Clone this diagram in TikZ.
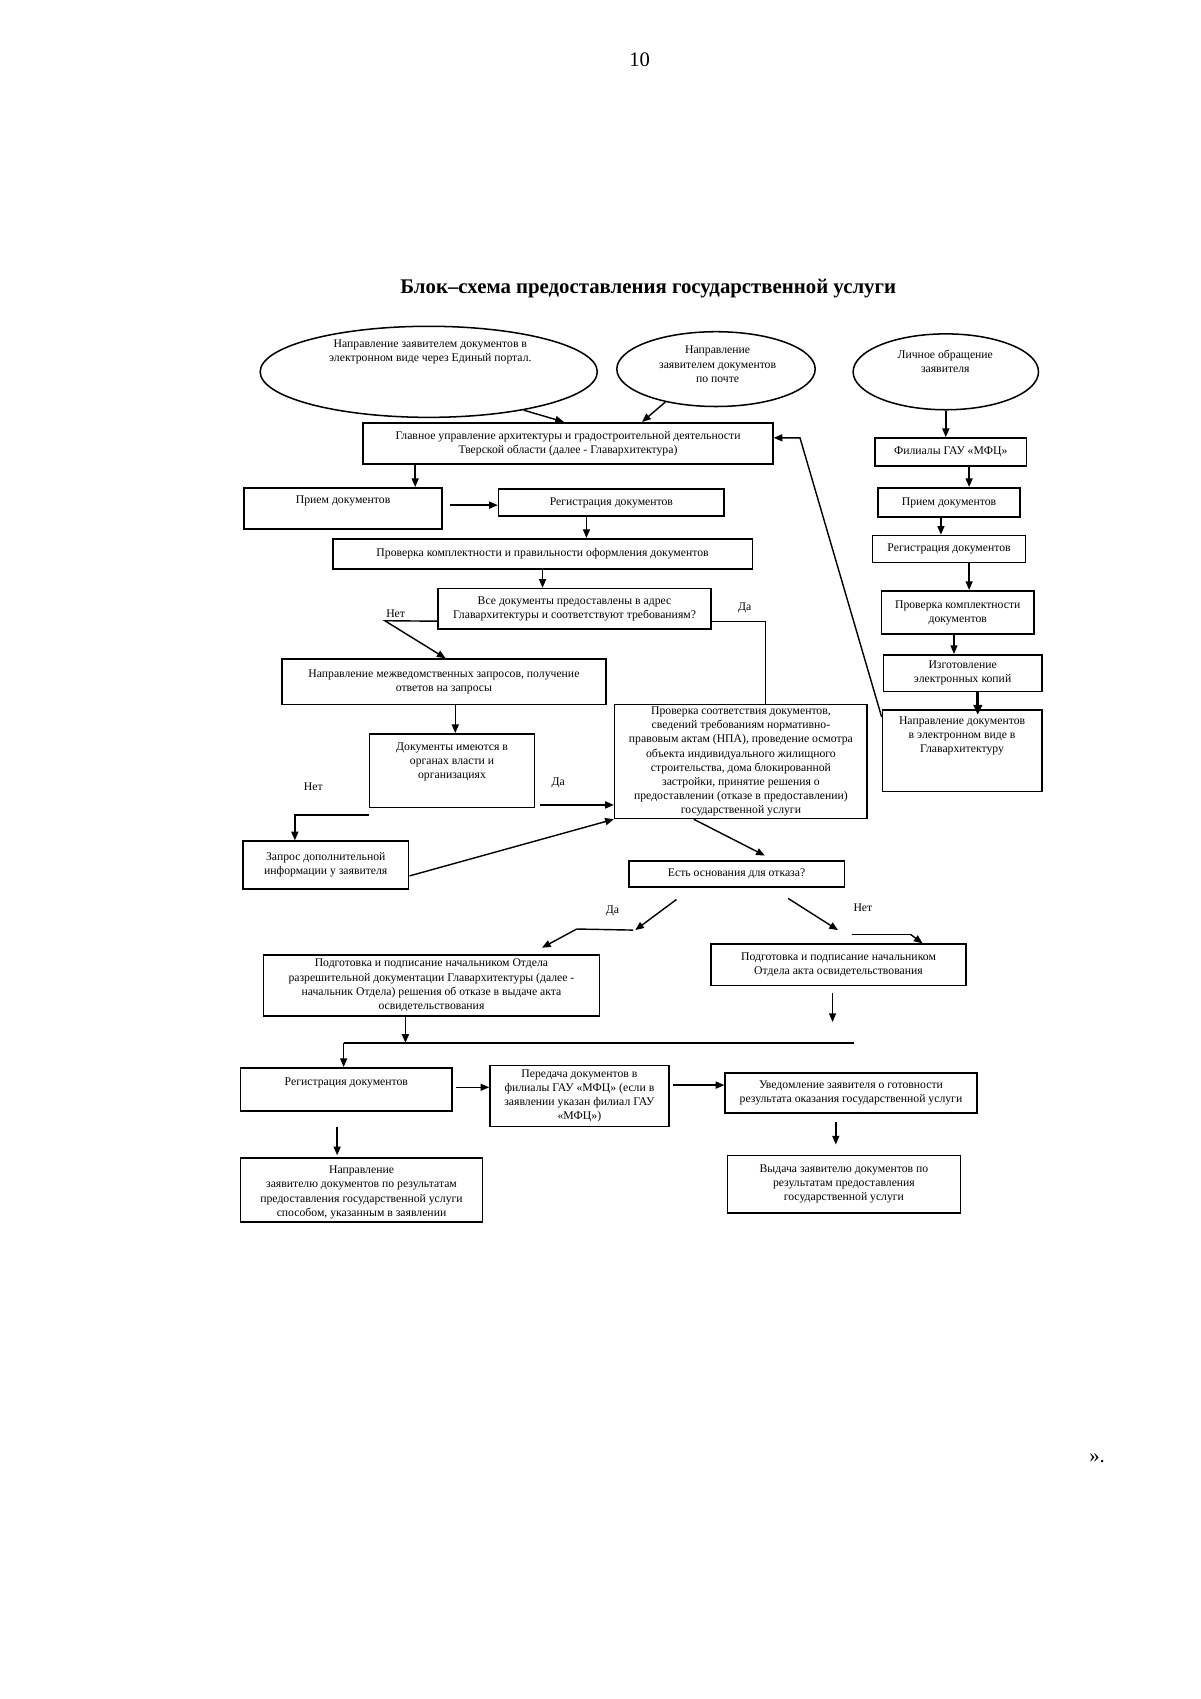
\documentclass[tikz,border=0pt]{standalone}
\usepackage{fontspec}
\setmainfont{Liberation Serif}
\usetikzlibrary{shapes.geometric,arrows.meta,calc}
\newcommand\fs{\fontsize{10.8}{13}\selectfont}
\tikzset{
  box/.style={draw, line width=1.5pt, inner sep=1pt, align=center, font=\fs},
  ell/.style={draw, ellipse, line width=1.4pt, inner sep=0pt},
  txt/.style={align=center, inner sep=0pt, font=\fs},
  arr/.style={line width=1.3pt, -{Triangle[length=8pt,width=6.5pt]}},
  ln/.style={line width=1.3pt},
  lbl/.style={font=\fs, inner sep=0pt}
}
\newcommand\mkbox[6]{%
  \pgfmathsetmacro\mbw{#4-#2}\pgfmathsetmacro\mbh{#5-#3}%
  \pgfmathsetmacro\mbx{(#2+#4)/2}\pgfmathsetmacro\mby{-(#3+#5)/2}%
  \node[box, minimum width=\mbw pt, minimum height=\mbh pt] (#1) at (\mbx,\mby) {#6};}
\newcommand\mkboxt[7]{%
  \pgfmathsetmacro\mbw{#4-#2}\pgfmathsetmacro\mbh{#5-#3}%
  \pgfmathsetmacro\mbx{(#2+#4)/2}\pgfmathsetmacro\mby{-(#3+#5)/2}%
  \node[box, minimum width=\mbw pt, minimum height=\mbh pt] (#1) at (\mbx,\mby) {};
  \node[txt] (#1-t) at (\mbx,-#6) {#7};}
\begin{document}
\begin{tikzpicture}[x=1pt,y=1pt]
\fill[white] (0,0) rectangle (1107,-1567.3);
\useasboundingbox (0,0) rectangle (1107,-1567.3);

\node[font=\fontsize{19}{22}\selectfont, inner sep=0pt] (pg) at (590,-55) {10};
\node[font=\fontsize{19}{22}\selectfont, inner sep=0pt] (qt) at (1012,-1345) {».};
\node[font=\bfseries\fontsize{19.2}{22}\selectfont, inner sep=0pt] (title) at (598,-266) {Блок–схема предоставления государственной услуги};

% ellipses
\node[ell, minimum width=311pt, minimum height=84pt] (E1) at (395.5,-343) {};
\node[txt] (E1-t) at (397,-324.5) {Направление заявителем документов в\\электронном виде через Единый портал.};
\node[ell, minimum width=183pt, minimum height=69pt] (E2) at (660.5,-340.5) {};
\node[txt] (E2-t) at (662,-336) {Направление\\заявителем документов\\по почте};
\node[ell, minimum width=171pt, minimum height=70pt] (E3) at (872.5,-343) {};
\node[txt] (E3-t) at (872,-333.5) {Личное обращение\\заявителя};

% main column
\mkbox{Glav}{335}{390}{713}{428}{Главное управление архитектуры и градостроительной деятельности\\Тверской области (далее - Главархитектура)}
\mkboxt{Priem1}{225}{450}{408}{488}{462}{Прием документов}
\mkbox{Reg1}{460}{451}{668}{476}{Регистрация документов}
\mkbox{Prov1}{307}{497}{694}{525}{Проверка комплектности и правильности оформления документов}
\mkbox{Vse}{404}{543}{656}{580}{Все документы предоставлены в адрес\\Главархитектуры и соответствуют требованиям?}
\mkbox{Mezh}{260}{608}{559}{650}{Направление межведомственных запросов, получение\\ответов на запросы}
\mkboxt{Dok}{341}{677}{493}{745}{703}{Документы имеются в\\органах власти и\\организациях}
\mkbox{NPA}{567}{650}{800}{755}{\fontsize{10.8}{12.4}\selectfont Проверка соответствия документов,\\сведений требованиям нормативно-\\правовым актам (НПА), проведение осмотра\\объекта индивидуального жилищного\\строительства, дома блокированной\\застройки, принятие решения  о\\предоставлении (отказе в предоставлении)\\государственной услуги}
\mkbox{Zapros}{224}{776}{377}{820}{Запрос дополнительной\\информации у заявителя}
\mkbox{Est}{580}{794}{779}{818}{Есть основания для отказа?}
\mkbox{PodgL}{243}{881}{553}{937}{Подготовка и подписание начальником Отдела\\разрешительной документации Главархитектуры (далее -\\начальник Отдела)  решения об отказе в выдаче акта\\освидетельствования}
\mkbox{PodgR}{656}{871}{891}{909}{Подготовка и подписание начальником\\Отдела  акта освидетельствования}
\mkboxt{Reg2}{222}{985}{417}{1025}{999}{Регистрация документов}
\mkbox{Pered}{452}{983}{617}{1039}{Передача документов в\\филиалы ГАУ «МФЦ» (если в\\заявлении указан филиал ГАУ\\«МФЦ»)}
\mkbox{Uved}{669}{990}{901}{1027}{Уведомление заявителя о готовности\\результата оказания государственной услуги}
\mkbox{Vyd}{671}{1066}{886}{1119}{Выдача заявителю документов по\\результатам предоставления\\государственной услуги}
\mkboxt{NaprL}{222}{1068}{445}{1127}{1100}{Направление\\заявителю документов по результатам\\предоставления государственной услуги\\способом, указанным в заявлении}

% MFC column
\mkbox{Fil}{807}{404}{947}{430}{Филиалы ГАУ «МФЦ»}
\mkbox{Pr2}{810}{450}{941}{477}{Прием документов}
\mkbox{Rg3}{805}{494}{946}{519}{Регистрация документов}
\mkbox{Pk}{813}{545}{954}{585}{Проверка комплектности\\документов}
\mkbox{Izg}{815}{604}{961}{638}{Изготовление\\электронных копий}
\mkboxt{NED}{814}{655}{961}{730}{679}{Направление документов\\в электронном виде в\\Главархитектуру}

% labels
\node[lbl] (l-net1) at (365,-566) {Нет};
\node[lbl] (l-da1) at (687,-561) {Да};
\node[lbl] (l-net2) at (289,-726) {Нет};
\node[lbl] (l-da2) at (515,-722) {Да};
\node[lbl] (l-da3) at (565,-840) {Да};
\node[lbl] (l-net3) at (796,-837) {Нет};

% connectors: top
\draw[arr] (E1.-22) -- ($(Glav.north west)!0.49!(Glav.north east)$);
\draw[arr] (E2.213) -- ($(Glav.north west)!0.68!(Glav.north east)$);
\coordinate (rc) at (738,-404);
\draw[arr] ([yshift=-7pt]NED.north west) -- (rc) -- ($(Glav.north east)!0.37!(Glav.south east)$);

% MFC chain
\draw[arr] (E3.south) -- (E3.south |- Fil.north);
\draw[arr] ([xshift=17pt]Fil.south) -- ([xshift=17pt]Fil.south |- Pr2.north);
\draw[arr] ([xshift=-7.5pt]Pr2.south) -- ([xshift=-7.5pt]Pr2.south |- Rg3.north);
\draw[arr] ([xshift=18.5pt]Rg3.south) -- ([xshift=18.5pt]Rg3.south |- Pk.north);
\draw[arr] ([xshift=-3.5pt]Pk.south) -- ([xshift=-3.5pt]Pk.south |- Izg.north);
\draw[line width=2.6pt, -{Triangle[length=9pt,width=8pt]}] ([xshift=14pt]Izg.south) -- ([xshift=14pt,yshift=-5pt]Izg.south |- NED.north);

% main chain
\draw[arr] ([xshift=-141pt]Glav.south) -- ([xshift=-141pt]Glav.south |- Priem1.north);
\coordinate (r1w) at ([yshift=-2.5pt]Reg1.west);
\draw[arr] ([xshift=6pt]Priem1.east |- r1w) -- (r1w);
\draw[arr] ([xshift=-23pt]Reg1.south) -- ([xshift=-23pt]Reg1.south |- Prov1.north);
\draw[arr] (Prov1.south) -- (Prov1.south |- Vse.north);
\coordinate (vw) at ($(Vse.north west)!0.8!(Vse.south west)$);
\coordinate (ve) at ($(Vse.north east)!0.8!(Vse.south east)$);
\coordinate (nk) at (355,-572.6);
\draw[arr] (vw) -- (nk) -- ([xshift=1.5pt]Mezh.north);
\draw[ln] (ve) -| ([xshift=22.5pt]NPA.north);
\draw[arr] ([xshift=10.5pt]Mezh.south) -- ([xshift=10.5pt]Mezh.south |- Dok.north);
\draw[arr] ([yshift=-6pt]Dok.south west) -| ([xshift=-28.5pt]Zapros.north);
\coordinate (npaw) at ($(NPA.north west)!0.876!(NPA.south west)$);
\draw[arr] ([xshift=4pt]Dok.east |- npaw) -- (npaw);
\draw[arr] ([yshift=-10pt]Zapros.east) -- (NPA.south west);
\draw[arr] ([xshift=-43.5pt]NPA.south) -- ([xshift=26pt,yshift=4pt]Est.north);

% decision branches
\coordinate (yb) at (586,-858);
\coordinate (yc) at (532,-857);
\draw[arr] ([xshift=-55.5pt,yshift=-11pt]Est.south) -- (yb);
\draw[ln] (yc) -- ([xshift=-2pt]yb);
\draw[arr] (yc) -- ([xshift=102pt,yshift=6pt]PodgL.north);
\coordinate (nb) at (773,-858);
\coordinate (nc) at (786,-862);
\coordinate (nd) at (840,-862);
\draw[arr] ([xshift=47.5pt,yshift=-10pt]Est.south) -- (nb);
\draw[ln] (nc) -- (nd);
\draw[arr] (nd) -- ([xshift=77.5pt]PodgR.north);

% lower part
\draw[arr] ([xshift=-5.5pt,yshift=-6pt]PodgR.south) -- ++(0,-27);
\coordinate (hl) at (317,-962);
\coordinate (hr) at (788,-962);
\draw[arr] ([xshift=-24pt]PodgL.south) -- ([xshift=-24pt]PodgL.south |- hl);
\draw[ln] (hl) -- (hr);
\draw[arr] (hl) -- (hl |- Reg2.north);
\draw[arr] ([xshift=3pt,yshift=2pt]Reg2.east) -- ([yshift=2pt]Reg2.east -| Pered.west);
\coordinate (uw) at ([yshift=7.5pt]Uved.west);
\draw[arr] ([xshift=3pt]Pered.east |- uw) -- (uw);
\draw[arr] ([xshift=-14pt,yshift=-7pt]Uved.south) -- ++(0,-21);
\draw[arr] ([xshift=-8.5pt,yshift=-14pt]Reg2.south) -- ++(0,-26);
\end{tikzpicture}
\end{document}
